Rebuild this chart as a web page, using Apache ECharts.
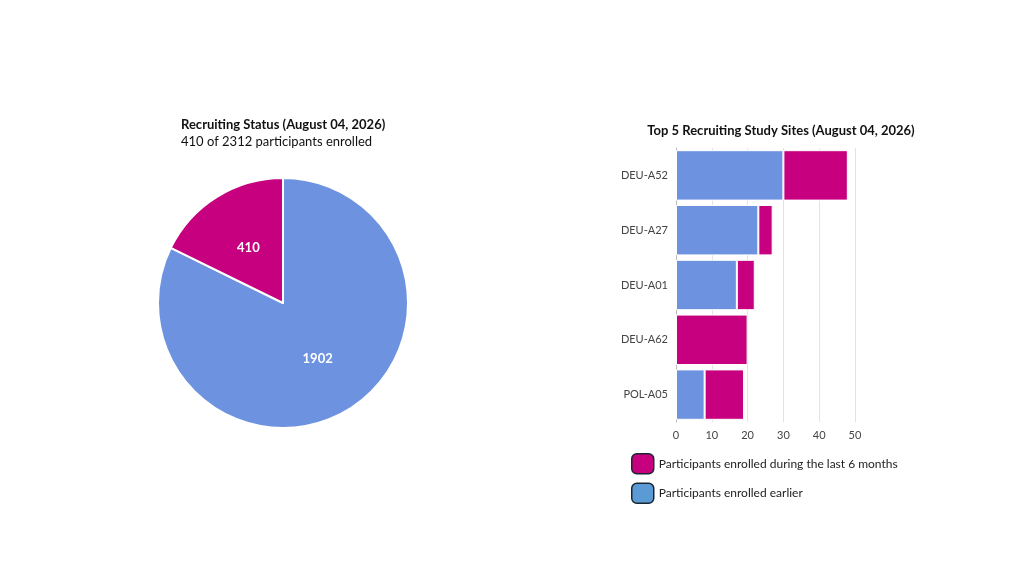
<!DOCTYPE html>
<html><head><meta charset="utf-8">
<script src="https://cdn.jsdelivr.net/npm/echarts@6/dist/echarts.min.js"></script>
<style>html,body{margin:0;padding:0;background:#fff}#c{width:1024px;height:576px}</style>
</head><body><div id="c"></div>
<script>
const pieLabels = ['Enrolled earlier', 'Enrolled'];
const pieValues = [1902, 410];
const sites = ['DEU-A52', 'DEU-A27', 'DEU-A01', 'DEU-A62', 'POL-A05'];
const earlier = [30, 23, 17, 0, 8];
const recent = [18, 4, 5, 20, 11];
const xTicks = [0, 10, 20, 30, 40, 50];

const blue = '#6d93e0', mag = '#c6007e';
const font = 'Lato, "Open Sans", sans-serif';
const chart = echarts.init(document.getElementById('c'));
chart.setOption({
  animation: false,
  textStyle: { fontFamily: font },
  title: [
    { text: 'Recruiting Status (August 04, 2026)', subtext: '410 of 2312 participants enrolled',
      left: 176, top: 113, itemGap: 4,
      textStyle: { fontSize: 13, fontWeight: 'bold', color: '#111', fontFamily: font },
      subtextStyle: { fontSize: 13, color: '#111', fontFamily: font } },
    { text: 'Top 5 Recruiting Study Sites (August 04, 2026)', left: 776, top: 119, textAlign: 'center',
      textStyle: { fontSize: 13, fontWeight: 'bold', color: '#111', fontFamily: font } }
  ],
  legend: {
    orient: 'vertical', left: 626, top: 448, itemWidth: 22, itemHeight: 20, itemGap: 8,
    textStyle: { fontSize: 12, color: '#222' },
    data: [
      { name: 'Participants enrolled during the last 6 months', itemStyle: { color: mag, borderColor: '#1a2733', borderWidth: 1.5 } },
      { name: 'Participants enrolled earlier', itemStyle: { color: '#5b9bd5', borderColor: '#1a2733', borderWidth: 1.5 } }
    ]
  },
  grid: { left: 676, top: 148, width: 179, height: 274 },
  xAxis: { type: 'value', min: 0, max: 50, interval: 10,
    axisLabel: { fontSize: 11, color: '#444', formatter: v => xTicks.includes(v) ? String(v) : '' },
    splitLine: { lineStyle: { color: '#e3e3e3' } }, axisLine: { show: false }, axisTick: { show: false } },
  yAxis: { type: 'category', data: sites, inverse: true,
    axisLabel: { fontSize: 11, color: '#444' }, axisTick: { show: false },
    axisLine: { lineStyle: { color: '#bbb' } } },
  series: [
    { type: 'pie', center: [283, 303], radius: 125, startAngle: 90, clockwise: true,
      data: pieValues.map((v, i) => ({ name: pieLabels[i], value: v, itemStyle: { color: i ? mag : blue } })),
      itemStyle: { borderColor: '#fff', borderWidth: 2 },
      label: { position: 'inside', color: '#fff', fontWeight: 'bold', fontSize: 13, formatter: '{c}' },
      labelLine: { show: false }, legendHoverLink: false },
    { name: 'Participants enrolled earlier', type: 'bar', stack: 's', data: earlier,
      barCategoryGap: '8%', itemStyle: { color: blue, borderColor: '#fff', borderWidth: 1 } },
    { name: 'Participants enrolled during the last 6 months', type: 'bar', stack: 's', data: recent,
      itemStyle: { color: mag, borderColor: '#fff', borderWidth: 1 } }
  ]
});
</script></body></html>
